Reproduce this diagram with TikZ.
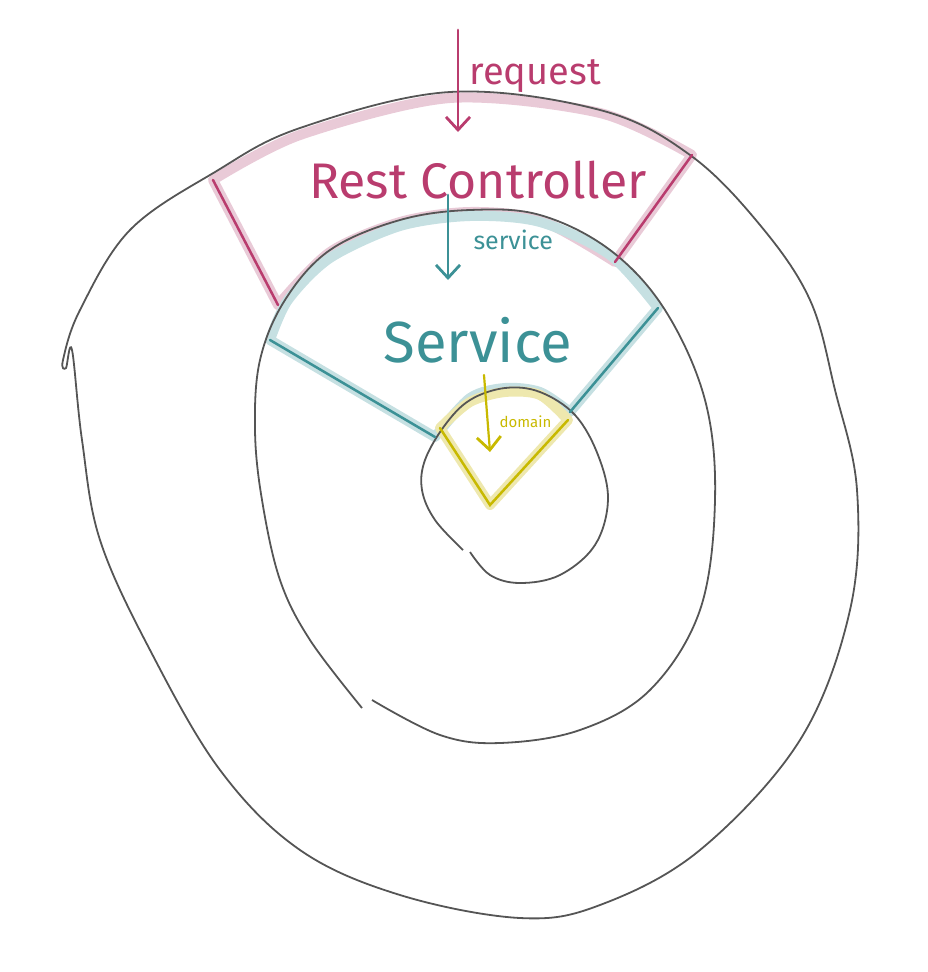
\documentclass[tikz,border=0pt]{standalone}
\usepackage{fontspec}
\setmainfont{Fira Sans}
\usetikzlibrary{arrows.meta}
\definecolor{rose}{HTML}{B93C6E}
\definecolor{roselight}{HTML}{E9CAD7}
\definecolor{teal}{HTML}{3C9196}
\definecolor{teallight}{HTML}{C6E0E2}
\definecolor{mustard}{HTML}{C8B900}
\definecolor{mustardlight}{HTML}{EEE8AE}
\definecolor{pencil}{HTML}{555555}
\tikzset{
  ring/.style={pencil,line width=1.8pt},
  glow/.style={line width=10pt,line join=round,line cap=round},
  edge/.style={line width=2.5pt,line cap=round},
  flow/.style={line width=2.8pt,line cap=round,-{Straight Barb[length=13pt,width=24pt,line width=2.8pt]}}
}
\begin{document}
\begin{tikzpicture}[x=1pt,y=-1pt]
        \useasboundingbox (0,0) rectangle (927,972);
        \coordinate (RA) at (213,180) {};
        \coordinate (RB) at (692,155) {};
        \coordinate (RC) at (615,262) {};
        \coordinate (RD) at (278,305) {};
        \coordinate (SA) at (270,340) {};
        \coordinate (SB) at (658,308) {};
        \coordinate (SC) at (570,412) {};
        \coordinate (SD) at (435,437) {};
        \coordinate (DA) at (440,428) {};
        \coordinate (DB) at (568,420) {};
        \coordinate (DC) at (490,505) {};
        \draw[glow,roselight] (RA) -- plot[smooth] coordinates {(213,180) (300,135) (450,98) (600,113) (692,155)} -- (RC)
          -- plot[smooth] coordinates {(615,262) (540,220) (470,212) (400,222) (330,252) (278,305)} -- cycle;
        \draw[glow,teallight] plot[smooth] coordinates {(270,340) (288,300) (330,258) (400,226) (470,216) (540,222) (610,255) (658,308)} -- (SC)
          -- plot[smooth] coordinates {(570,412) (540,392) (505,388) (470,398) (435,437)} -- cycle;
        \draw[glow,mustardlight] plot[smooth] coordinates {(440,428) (470,402) (505,392) (540,395) (568,420)} -- (DC) -- cycle;
        \draw[ring] plot[smooth cycle,tension=0.6] coordinates {(63,360) (80,310) (130,230) (215,172) (300,128) (450,92) (600,110) (690,155) (760,225) (810,300) (835,390) (857,490) (850,610) (800,740) (700,850) (600,905) (520,918) (400,895) (300,850) (220,770) (150,650) (100,540) (82,440) (72,350) (66,368)};
        \draw[ring] plot[smooth,tension=0.6] coordinates {(372,700) (440,735) (500,743) (580,730) (650,690) (700,610) (715,500) (705,400) (665,310) (610,250) (540,215) (470,210) (400,220) (330,250) (285,300) (260,360) (255,430) (262,500) (280,580) (310,640) (362,708)};
        \draw[ring] plot[smooth,tension=0.6] coordinates {(470,552) (490,575) (520,583) (560,575) (595,545) (608,500) (598,455) (575,415) (540,392) (505,388) (470,400) (445,425) (425,460) (422,490) (435,520) (463,550)};
        \draw[edge,rose] (RA) -- (RD);
        \draw[edge,rose] (RB) -- (RC);
        \draw[edge,teal] (SA) -- (SD);
        \draw[edge,teal] (SB) -- (SC);
        \draw[edge,mustard] (DA) -- (DC) -- (DB);
        \coordinate (req) at (458,30) {};
        \coordinate (reqend) at (458,132) {};
        \coordinate (srv) at (448,195) {};
        \coordinate (srvend) at (448,280) {};
        \coordinate (dom) at (484,375) {};
        \coordinate (domend) at (490,452) {};
        \draw[flow,rose] (req) -- (reqend);
        \draw[flow,teal] (srv) -- (srvend);
        \draw[flow,mustard,line width=2.2pt] (dom) -- (domend);
        \node[rose,font=\fontsize{38}{38}\selectfont,anchor=west] (lblreq) at (466,76) {request};
        \node[rose,font=\fontsize{50}{50}\selectfont] (lblrest) at (478,180) {Rest Controller};
        \node[teal,font=\fontsize{25}{25}\selectfont,anchor=west] (lblsrv) at (470,240) {service};
        \node[teal,font=\fontsize{58}{58}\selectfont] (lblservice) at (478,340) {Service};
        \node[mustard,font=\fontsize{15}{15}\selectfont,anchor=west] (lbldom) at (496,422) {domain};
      \end{tikzpicture}
\end{document}
